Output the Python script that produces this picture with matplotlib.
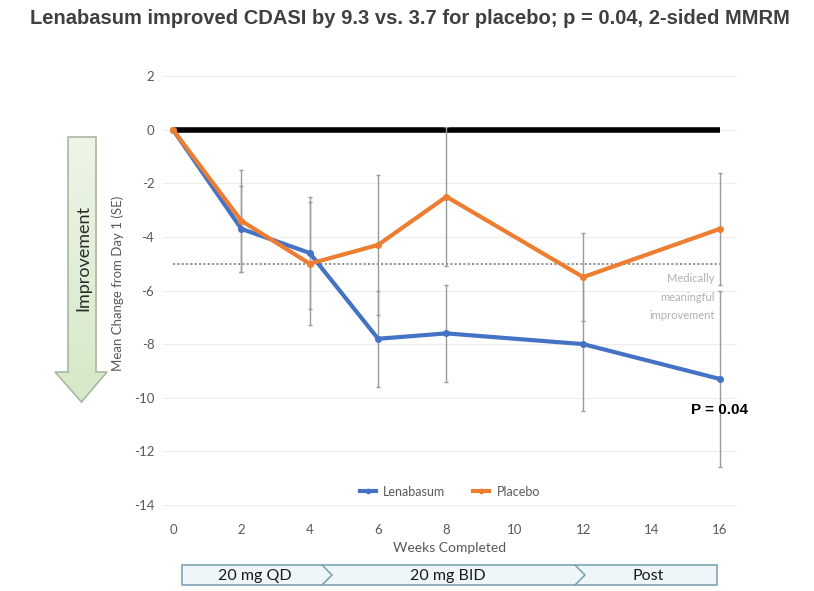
import matplotlib
matplotlib.use("Agg")
import matplotlib.pyplot as plt
import numpy as np
from matplotlib.patches import Polygon, Rectangle
from matplotlib.lines import Line2D
from matplotlib.colors import LinearSegmentedColormap

plt.rcParams["axes.unicode_minus"] = False

# ---- data ----
weeks = [0, 2, 4, 6, 8, 12, 16]
lenabasum = [0.0, -3.7, -4.6, -7.8, -7.6, -8.0, -9.3]
lenabasum_se = [0.0, 1.6, 2.1, 1.8, 1.8, 2.5, 3.3]
placebo = [0.0, -3.4, -5.0, -4.3, -2.5, -5.5, -3.7]
placebo_se = [0.0, 1.9, 2.3, 2.6, 2.6, 1.65, 2.1]
yticks = [2, 0, -2, -4, -6, -8, -10, -12, -14]
xticks = [0, 2, 4, 6, 8, 10, 12, 14, 16]
mcid = -5.0
phases = ["20 mg QD", "20 mg BID", "Post"]
title = "Lenabasum improved CDASI by 9.3 vs. 3.7 for placebo; p = 0.04, 2-sided MMRM"

BLUE = "#4472C4"
ORANGE = "#ED7D31"
GREY = "#9a9a9a"
TXT = "#595959"
FONT = ["Lato", "DejaVu Sans"]

W, H = 814, 591
fig = plt.figure(figsize=(W / 100, H / 100), dpi=100)

def fx(px):
    return px / W

def fy(py):
    return 1 - py / H

# main axes
left, right, top, bottom = 162.7, 737.0, 65.3, 515.7
ax = fig.add_axes([fx(left), fy(bottom), (right - left) / W, (bottom - top) / H])
ax.set_xlim(-0.3, 16.5)
ax.set_ylim(-14.4, 2.4)
for s in ax.spines.values():
    s.set_visible(False)
ax.set_yticks(yticks)
ax.set_xticks(xticks)
ax.tick_params(length=0, labelsize=9.5, labelcolor=TXT, pad=6)
for lab in ax.get_xticklabels() + ax.get_yticklabels():
    lab.set_fontfamily(FONT)
ax.grid(axis="y", color="#ededed", lw=0.8, zorder=0)

# zero line
ax.plot([0, 16], [0, 0], color="black", lw=4, zorder=2, solid_capstyle="butt")
# MCID dotted line
ax.plot([0, 16], [mcid, mcid], color="#8c8c8c", lw=1.3, ls=(0, (1.2, 1.2)), zorder=2)

# error bars
ax.errorbar(weeks[1:], placebo[1:], yerr=placebo_se[1:], fmt="none", ecolor=GREY,
            elinewidth=1, capsize=1.5, capthick=1, zorder=2.5)
ax.errorbar(weeks[1:], lenabasum[1:], yerr=lenabasum_se[1:], fmt="none", ecolor=GREY,
            elinewidth=1, capsize=1.5, capthick=1, zorder=2.5)

# series
ax.plot(weeks, lenabasum, color=BLUE, lw=3, marker="o", ms=4, zorder=3, label="Lenabasum")
ax.plot(weeks, placebo, color=ORANGE, lw=3, marker="o", ms=4, zorder=3, label="Placebo")

ax.text(15.85, -5.55, "Medically", ha="right", va="center", color="#b0b0b0", fontsize=8, family=FONT)
ax.text(15.85, -6.25, "meaningful", ha="right", va="center", color="#b0b0b0", fontsize=8, family=FONT)
ax.text(15.85, -6.95, "improvement", ha="right", va="center", color="#b0b0b0", fontsize=8, family=FONT)
ax.text(16, -10.45, "P = 0.04", ha="center", va="center", color="black", fontsize=11,
        fontweight="bold", family=["Liberation Sans", "DejaVu Sans"], zorder=4)

handles = [Line2D([], [], color=BLUE, lw=3, marker="o", ms=3),
           Line2D([], [], color=ORANGE, lw=3, marker="o", ms=3)]
leg = ax.legend(handles, ["Lenabasum", "Placebo"], loc="center", bbox_to_anchor=(0.5, 0.053),
                ncol=2, frameon=False, handlelength=1.3, columnspacing=2.2,
                handletextpad=0.6, prop={"family": FONT, "size": 9})
for t in leg.get_texts():
    t.set_color(TXT)

ax.set_xlabel("Weeks Completed", fontsize=10, color=TXT, family=FONT, labelpad=4)
ax.set_ylabel("Mean Change from Day 1 (SE)", fontsize=9.5, color=TXT, family=FONT)
ax.yaxis.set_label_coords((124 - left) / (right - left), 0.515)

# overlay axes in pixel coordinates
ov = fig.add_axes([0, 0, 1, 1], zorder=-1)
ov.set_xlim(0, W)
ov.set_ylim(H, 0)
ov.axis("off")

# green arrow
arrow = [(68, 137), (96, 137), (96, 372), (107, 372), (81.5, 402), (55, 372), (68, 372)]
grad = np.linspace(0, 1, 256).reshape(-1, 1)
cmap = LinearSegmentedColormap.from_list("g", ["#eef5e8", "#d5e8c8"])
im = ov.imshow(grad, extent=(55, 107, 402, 137), cmap=cmap, aspect="auto", zorder=1)
poly = Polygon(arrow, closed=True, facecolor="none", edgecolor="#a9b8a0", lw=1.2, zorder=2)
ov.add_patch(poly)
im.set_clip_path(poly)
ov.text(83, 258, "Improvement", rotation=90, ha="center", va="center", fontsize=13,
        color="#2b2b2b", family=FONT, zorder=3)

# phase bar
y0, y1 = 565, 585
ov.add_patch(Rectangle((182, y0), 717 - 182, y1 - y0, facecolor="#eef6fa",
                       edgecolor="#7fa3b5", lw=1.2, zorder=1))
for cx in (322, 575):
    ov.plot([cx, cx + 10, cx], [y0, (y0 + y1) / 2, y1], color="#7fa3b5", lw=1.2, zorder=2)
for txt, cx in zip(phases, (255, 448, 648)):
    ov.text(cx, 576, txt, ha="center", va="center", fontsize=11.5, color="#1a1a1a",
            family=FONT, zorder=3)

fig.text(fx(410), fy(18), title, ha="center", va="center", fontsize=14.5, fontweight="bold",
         color="#404040", family=["Liberation Sans", "DejaVu Sans"])

fig.savefig("out.png", dpi=100)
